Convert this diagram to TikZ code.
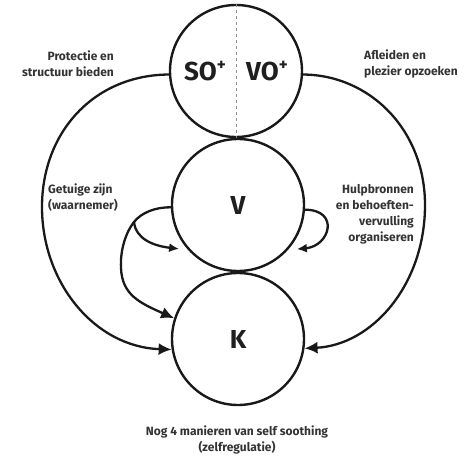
\documentclass[tikz,border=0pt]{standalone}
\usepackage{fontspec}
\setmainfont{Fira Sans}
\usetikzlibrary{arrows.meta}
\begin{document}
\begin{tikzpicture}[x=1pt,y=-1pt,
  ring/.style={circle,draw=black!90,line width=2.4pt,minimum size=132pt,inner sep=0pt},
  conn/.style={line width=2.3pt,draw=black!90,-{Latex[length=13pt,width=12pt]}},
  smallconn/.style={line width=2.3pt,draw=black!90,-{Latex[length=10pt,width=9pt]},shorten >=9pt},
  lbl/.style={font=\bfseries\fontsize{12}{16}\selectfont,text=black!80,inner sep=0pt},
  big/.style={font=\bfseries\fontsize{26}{26}\selectfont,text=black!88}]
\useasboundingbox (0,0) rectangle (471,457);
% circles
\node[ring] (top) at (236,71) {};
\node[ring,big] (V) at (238,205) {V};
\node[ring,big] (K) at (238,339) {K};
\draw[dashed,black!45,line width=1pt] (top.north) -- (top.south);
\node[big] (so) at (205,71) {SO\raisebox{0.4em}{\fontsize{17}{17}\selectfont +}};
\node[big] (vo) at (267,71) {VO\raisebox{0.4em}{\fontsize{17}{17}\selectfont +}};
% big arcs
\draw[conn] (top.183) .. controls (94,75) and (42,132) .. (42,207) .. controls (42,283) and (95,347) .. (K.189);
\draw[conn] (top.357) .. controls (370,75) and (425,130) .. (425,205) .. controls (425,285) and (372,345) .. (K.352);
% left loop
\coordinate (P) at (134,222);
\draw[conn] (V.182) .. controls (155,207) and (141,213) .. (P) .. controls (126,232) and (120,250) .. (121,268) .. controls (122,295) and (140,303) .. (K.162);
\draw[smallconn] (P) .. controls (136,240) and (155,246) .. (V.222);
% right loop
\draw[smallconn] (V.356) .. controls (340,210) and (330,246) .. (V.318);
% labels
\node[lbl,align=right,anchor=east] (l1) at (114,64) {Protectie en\\structuur bieden};
\node[lbl,align=left,anchor=west] (l2) at (364,64) {Afleiden en\\plezier opzoeken};
\node[lbl,align=left,anchor=west] (l3) at (48,198) {Getuige zijn\\(waarnemer)};
\node[lbl,align=right,anchor=east] (l4) at (414,214) {Hulpbronnen\\en behoeften-\\vervulling\\organiseren};
\node[lbl,align=center] (l5) at (237,440) {Nog 4 manieren van self soothing\\(zelfregulatie)};
\end{tikzpicture}
\end{document}
